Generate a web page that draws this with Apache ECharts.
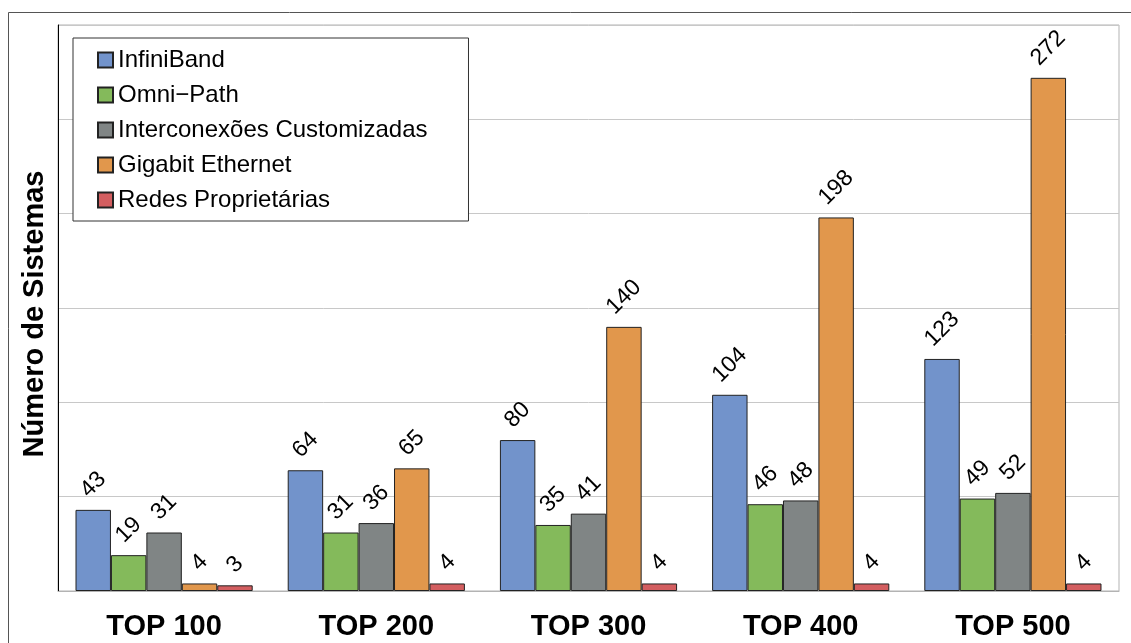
<!DOCTYPE html>
<html>
<head>
<meta charset="utf-8">
<script src="https://cdn.jsdelivr.net/npm/echarts@6/dist/echarts.min.js"></script>
<style>
  html, body { margin: 0; padding: 0; background: #fff; }
  #chartWrap { width: 1131px; height: 643px; }
</style>
</head>
<body>
<div id="chartWrap"></div>
<script>
// categorias e dados
var categories = ['TOP 100', 'TOP 200', 'TOP 300', 'TOP 400', 'TOP 500'];
var seriesNames = ['InfiniBand', 'Omni\u2212Path', 'Interconexões Customizadas', 'Gigabit Ethernet', 'Redes Proprietárias'];
var infiniband = [43, 64, 80, 104, 123];
var omniPath = [19, 31, 35, 46, 49];
var customizadas = [31, 36, 41, 48, 52];
var gigabit = [4, 65, 140, 198, 272];
var proprietarias = [3, 4, 4, 4, 4];
var colors = ['#7293cb', '#84ba5b', '#808585', '#e1974c', '#d35e60'];

var font = 'Liberation Sans, Arial, sans-serif';
var dom = document.getElementById('chartWrap');
var myChart = echarts.init(dom);

var values = [infiniband, omniPath, customizadas, gigabit, proprietarias];
var series = [];
for (var i = 0; i < seriesNames.length; i++) {
    series.push({
        name: seriesNames[i],
        type: 'bar',
        data: values[i],
        barGap: '0%',
        barCategoryGap: '16.5%',
        itemStyle: {
            color: colors[i],
            borderColor: '#222',
            borderWidth: 1
        },
        label: {
            show: true,
            position: 'top',
            rotate: 45,
            align: 'center',
            verticalAlign: 'middle',
            fontFamily: font,
            fontSize: 23,
            color: '#000'
        },
        // rotulo girado, centrado acima da barra
        labelLayout: function (params) {
            var r = params.rect;
            var lr = params.labelRect;
            return {
                x: r.x + r.width / 2,
                y: r.y - 8 - lr.height / 2,
                rotate: 45,
                align: 'center',
                verticalAlign: 'middle'
            };
        }
    });
}

var option = {
    animation: false,
    backgroundColor: '#fff',
    graphic: [{
        type: 'rect',
        shape: { x: 8.5, y: 12.5, width: 1140, height: 700 },
        style: { fill: 'none', stroke: '#555', lineWidth: 1 },
        z: -10
    }],
    grid: {
        left: 58,
        right: 12,
        top: 25,
        bottom: 52,
        show: true,
        borderColor: '#b3b3b3',
        borderWidth: 1
    },
    legend: {
        orient: 'vertical',
        left: 73,
        top: 38,
        padding: [10, 41, 9, 24],
        itemWidth: 15,
        itemHeight: 15,
        itemGap: 11,
        icon: 'rect',
        backgroundColor: '#fff',
        borderColor: '#333',
        borderWidth: 1,
        textStyle: { fontFamily: font, fontSize: 24, color: '#000' },
        data: seriesNames
    },
    xAxis: {
        type: 'category',
        data: categories,
        axisLine: { lineStyle: { color: '#b3b3b3' } },
        axisTick: { show: false },
        axisLabel: {
            margin: 21,
            fontFamily: font,
            fontSize: 29,
            fontWeight: 'bold',
            color: '#000'
        }
    },
    yAxis: {
        type: 'value',
        min: 0,
        max: 300,
        interval: 50,
        name: 'Número de Sistemas',
        nameLocation: 'middle',
        nameGap: 9,
        nameTextStyle: {
            fontFamily: font,
            fontSize: 29,
            fontWeight: 'bold',
            color: '#000',
            padding: [0, 12, 0, 0]
        },
        axisLine: { show: true, lineStyle: { color: '#000' } },
        axisTick: { show: false },
        axisLabel: { show: false },
        splitLine: { lineStyle: { color: '#c8c8c8' } }
    },
    series: series
};

myChart.setOption(option, true);
</script>
</body>
</html>
